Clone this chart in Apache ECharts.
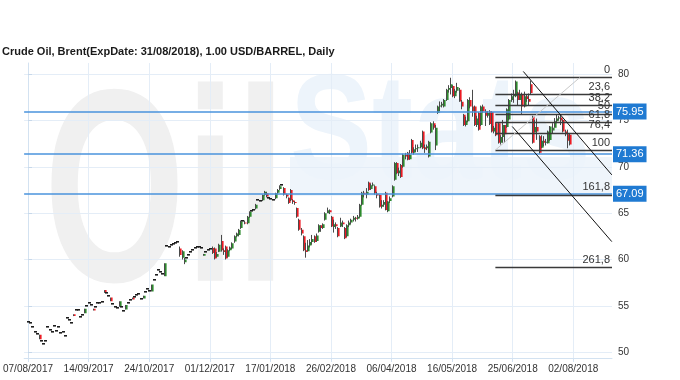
<!DOCTYPE html>
<html><head><meta charset="utf-8">
<script src="https://cdn.jsdelivr.net/npm/echarts@6/dist/echarts.min.js"></script>
<style>html,body{margin:0;padding:0;background:#fff}#c{width:680px;height:380px}</style>
</head><body><div id="c"></div>
<script>
const titleText = 'Crude Oil, Brent(ExpDate: 31/08/2018), 1.00 USD/BARREL, Daily';
const tickLabels = ['07/08/2017','14/09/2017','24/10/2017','01/12/2017','17/01/2018','26/02/2018','06/04/2018','16/05/2018','25/06/2018','02/08/2018'];
const tickStep = 28;
const yTicks = [50,55,60,65,70,75,80];

const opens = [
53.3,53.2,52.7,52.2,52.0,51.9,51.25,50.9,51.25,52.7,
52.4,52.2,52.8,52.3,52.7,52.05,52.15,51.8,53.65,53.5,
53.2,54.1,54.55,54.6,53.85,54.0,54.2,55.0,55.3,55.1,
54.7,54.9,55.3,55.35,55.4,56.7,56.35,56.1,55.9,55.2,
54.9,54.8,54.9,54.9,54.4,54.6,55.3,55.6,55.9,56.0,
56.2,56.3,55.7,55.8,56.5,56.8,56.6,56.55,57.8,58.35,
58.9,58.6,58.4,58.2,61.5,61.4,61.6,61.7,61.8,61.9,
61.2,60.2,59.7,60.2,60.5,60.8,61.0,61.2,61.4,61.3,
61.2,60.4,60.8,61.0,61.1,61.25,61.2,60.3,60.85,62.0,
61.0,61.4,60.3,61.0,61.2,61.95,62.5,62.65,63.4,64.1,
64.0,63.9,64.6,65.2,65.3,65.5,66.4,66.3,66.4,66.95,
67.15,66.6,66.5,66.4,66.6,67.2,67.6,68.05,67.7,67.0,
66.65,67.5,66.4,66.2,65.55,64.3,63.2,62.5,61.0,60.9,
61.5,61.9,62.5,62.0,63.0,63.7,63.4,64.3,65.0,65.3,
64.6,63.5,63.8,63.4,63.55,64.0,63.4,62.5,63.7,64.0,
64.3,64.5,64.4,64.6,65.9,67.2,67.0,68.3,67.6,68.0,
67.9,67.1,66.95,65.7,65.9,67.2,65.2,66.3,66.8,68.6,
70.4,69.3,70.2,70.0,71.3,71.5,70.8,72.9,71.5,71.9,
72.0,72.1,73.8,72.1,72.0,71.1,73.7,74.7,72.3,75.8,
76.5,76.6,76.5,77.2,78.3,78.5,78.7,77.6,78.2,78.3,
77.0,75.6,74.5,74.9,77.2,76.5,76.5,74.5,75.8,74.5,
76.5,76.0,75.5,76.0,75.9,73.8,74.7,74.7,72.6,73.2,
74.5,74.3,75.1,77.2,77.6,77.6,78.0,77.2,77.8,76.5,
77.6,77.3,78.9,75.4,73.7,74.3,73.3,72.05,72.8,72.6,
72.55,72.9,73.9,74.2,74.9,75.2,75.3,75.05,73.8,73.5,
73.45];
const closes = [
53.3,53.2,52.7,52.2,52.0,51.4,51.25,50.9,51.25,52.7,
52.4,52.2,52.8,52.3,52.7,52.05,52.15,51.8,53.65,53.5,
53.2,53.9,54.55,54.6,53.85,54.0,54.7,55.0,55.3,55.1,
54.5,54.9,55.3,55.35,55.4,56.4,56.35,56.1,55.5,55.2,
54.9,54.8,55.5,54.9,54.4,55.1,55.3,55.6,55.7,56.0,
56.2,56.3,55.7,56.1,56.5,56.8,56.6,57.3,57.8,58.35,
58.9,58.6,58.4,59.6,61.5,61.4,61.6,61.7,61.8,61.9,
60.5,60.9,60.0,60.2,60.5,60.8,61.0,61.2,61.4,61.3,
61.2,60.6,60.8,61.0,61.1,60.7,60.1,60.6,61.6,61.0,
60.8,60.1,61.0,61.3,61.75,62.5,62.8,63.2,64.1,64.1,
63.9,64.6,65.15,65.2,65.3,65.9,66.4,66.3,66.95,67.3,
66.8,66.6,66.5,66.4,67.15,67.5,67.9,68.05,67.0,66.8,
66.1,66.4,66.2,66.1,64.6,63.2,62.8,61.0,60.8,61.5,
61.9,62.2,61.9,62.6,63.7,63.4,63.8,65.0,65.3,65.1,
63.55,63.8,63.6,62.5,64.0,63.8,62.3,63.7,64.0,64.3,
64.5,64.4,64.6,65.9,67.2,67.0,67.3,67.5,68.0,68.1,
67.15,66.9,65.7,65.9,66.2,65.35,66.25,66.6,67.9,70.4,
69.3,69.6,68.9,71.3,71.1,70.75,71.3,71.5,71.9,72.0,
72.1,72.6,72.0,71.9,72.2,72.7,74.7,74.2,74.2,76.5,
76.6,76.8,77.2,78.3,78.5,78.9,77.6,78.2,78.6,77.05,
76.5,74.5,75.0,77.2,76.5,76.0,74.5,75.2,74.0,76.5,
76.0,75.5,75.8,74.6,73.8,74.2,73.4,72.6,73.2,74.5,
73.5,76.2,77.2,77.6,77.8,79.2,77.2,77.8,76.5,77.6,
77.3,77.0,77.95,72.6,74.3,73.8,71.5,72.8,72.6,72.7,
73.8,74.35,74.2,74.9,75.2,75.3,75.0,73.8,73.5,72.8,
72.4];
const lows = [
53.25,53.15,52.65,52.15,51.95,51.4,51.2,50.85,51.2,52.65,
52.35,52.15,52.75,52.25,52.65,52.0,52.1,51.75,53.6,53.45,
53.15,53.9,54.5,54.55,53.8,53.95,54.2,54.95,55.25,55.05,
54.5,54.85,55.25,55.3,55.35,56.4,56.3,56.05,55.5,55.15,
54.85,54.75,54.9,54.85,54.35,54.6,55.25,55.55,55.7,55.95,
56.15,56.25,55.65,55.8,56.45,56.75,56.55,56.55,57.75,58.3,
58.85,58.55,58.35,58.2,61.45,61.35,61.55,61.65,61.75,61.85,
60.3,60.0,59.5,60.15,60.45,60.75,60.95,61.15,61.35,61.25,
61.15,60.4,60.75,60.95,61.05,60.6,60.0,60.2,60.8,60.85,
60.5,60.0,60.2,60.9,61.1,61.8,62.4,62.5,63.3,64.05,
63.8,63.8,64.5,65.15,65.25,65.4,66.35,66.25,66.3,66.9,
66.7,66.55,66.4,66.3,66.5,67.1,67.5,67.9,66.9,66.6,
66.0,66.3,66.0,65.9,64.5,63.1,62.6,60.9,60.2,60.85,
61.3,61.6,61.8,61.9,62.9,63.0,63.3,64.2,65.0,64.9,
63.5,62.9,63.3,62.4,63.5,63.5,62.2,62.4,63.5,63.8,
64.1,64.1,64.3,64.5,65.8,66.7,66.6,67.4,67.5,67.9,
67.0,66.6,65.6,65.5,65.7,65.3,65.1,66.1,66.7,68.5,
69.2,69.0,68.8,69.9,70.8,70.7,70.75,71.4,71.3,71.6,
71.6,72.0,71.9,71.5,71.8,71.0,73.6,74.0,71.8,75.7,
76.0,76.4,76.4,77.1,78.0,77.8,77.5,77.4,78.0,77.0,
76.2,74.4,74.35,74.8,76.3,75.4,74.4,74.3,73.9,74.4,
75.8,74.4,75.3,74.5,73.7,73.6,73.3,72.5,72.4,72.6,
72.6,74.2,75.0,77.0,76.9,77.5,76.6,77.2,75.7,76.4,
77.0,76.6,77.8,72.5,73.7,72.9,71.4,72.0,72.2,72.3,
72.5,72.8,73.6,74.2,74.7,75.0,74.5,73.7,73.3,72.0,
72.3];
const highs = [
53.35,53.25,52.75,52.25,52.05,51.9,51.3,50.95,51.3,52.75,
52.45,52.25,52.85,52.35,52.75,52.1,52.2,51.85,53.7,53.55,
53.25,54.1,54.6,54.65,53.9,54.05,54.7,55.05,55.35,55.15,
54.7,54.95,55.35,55.4,55.45,56.7,56.4,56.15,55.9,55.25,
54.95,54.85,55.5,54.95,54.45,55.1,55.35,55.65,55.9,56.05,
56.25,56.35,55.75,56.1,56.55,56.85,56.65,57.3,57.85,58.4,
58.95,58.65,58.45,59.6,61.55,61.45,61.65,61.75,61.85,61.95,
61.4,61.0,60.2,60.25,60.55,60.85,61.05,61.25,61.45,61.35,
61.25,60.6,60.85,61.05,61.15,61.4,61.3,60.8,61.7,62.65,
61.2,61.5,61.1,61.4,61.85,62.6,62.9,63.3,64.2,64.15,
64.2,64.7,65.2,65.25,65.35,66.0,66.45,66.35,67.0,67.4,
67.3,66.65,66.6,66.5,67.2,67.6,68.0,68.15,67.8,67.1,
66.7,67.6,66.5,66.3,65.6,64.4,63.4,62.6,61.8,62.1,
62.2,62.65,62.6,62.8,63.8,63.7,63.9,65.1,65.6,65.4,
64.7,64.3,64.0,63.5,64.5,64.2,63.5,63.8,64.2,64.4,
64.7,64.6,64.8,66.0,67.3,67.4,67.7,68.4,68.2,68.3,
68.0,67.3,67.0,66.4,66.4,67.3,66.3,66.8,68.0,70.5,
70.5,69.9,70.3,71.4,71.5,71.6,71.8,73.0,72.1,72.4,
72.4,72.8,73.9,72.4,72.4,72.8,74.8,74.9,74.5,76.6,
77.05,77.0,77.3,78.4,78.8,79.6,78.8,78.4,79.05,78.5,
77.2,75.7,75.4,77.3,77.5,78.3,76.6,75.5,75.9,76.6,
76.7,76.2,76.0,76.1,76.0,74.4,74.8,74.8,73.4,75.05,
74.5,76.3,77.3,77.9,78.3,79.3,78.1,78.3,78.0,78.1,
77.8,77.9,79.3,75.5,75.05,75.2,73.4,73.4,73.3,73.0,
73.9,74.4,74.7,75.25,75.6,75.5,75.6,75.1,74.0,74.0,
73.6];

const levels = [75.95, 71.36, 67.09];
const fibHigh = 79.62, fibLow = 71.8, fibStartIdx = 216;
const fibPct = [0, 23.6, 38.2, 50, 61.8, 76.4, 100, 161.8, 261.8];
const fibNames = ['0', '23,6', '38,2', '50', '61,8', '76,4', '100', '161,8', '261,8'];
const fibAnchor = [[216, 71.8], [255, 79.62]];
const channelUpper = [[228.9, 80.28], [269.8, 69.13]];
const channelLower = [[223.8, 74.34], [269.8, 61.93]];

const X_MIN = -1.8, X_MAX = 269.9, Y_MIN = 49.38, Y_MAX = 81.19;
const xTicks = tickLabels.map((_, k) => k * tickStep);

const candleData = closes.map((c, k) => [k, opens[k], c, lows[k], highs[k]]);

function renderCandle(params, api) {
  const i = api.value(0), o = api.value(1), c = api.value(2), lo = api.value(3), hi = api.value(4);
  const pO = api.coord([i, o]), pC = api.coord([i, c]), pL = api.coord([i, lo]), pH = api.coord([i, hi]);
  const x = Math.round(pO[0]);
  if (Math.abs(c - o) < 0.01) {
    return {type: 'rect', shape: {x: x - 1, y: Math.round(pO[1]) - 1, width: 3, height: 1.6}, style: {fill: '#1e1e1e'}};
  }
  const up = c > o;
  const top = Math.min(pO[1], pC[1]), bot = Math.max(pO[1], pC[1]);
  return {type: 'group', children: [
    {type: 'line', shape: {x1: x + 0.5, y1: pH[1], x2: x + 0.5, y2: pL[1]}, style: {stroke: '#4a4a4a', lineWidth: 1}},
    {type: 'rect', shape: {x: x + 1, y: top, width: 1.6, height: Math.max(1, bot - top)}, style: {fill: up ? '#2e8b2e' : '#ec1c24'}}
  ]};
}

const mlData = [];
levels.forEach(v => {
  mlData.push({
    yAxis: v,
    lineStyle: {color: '#4a93dc', width: 1.6, type: 'solid'},
    label: {show: true, position: 'end', formatter: v.toFixed(2), backgroundColor: '#1f7ad2', color: '#fff',
            padding: [3, 3, 2, 3], fontSize: 11, fontFamily: 'Liberation Sans', distance: 1}
  });
});
fibPct.forEach((p, k) => {
  const v = fibHigh - p / 100 * (fibHigh - fibLow);
  mlData.push([
    {coord: [fibStartIdx, v], lineStyle: {color: '#3a3a3a', width: 1.4, type: 'solid'},
     label: {show: true, position: 'insideEndTop', formatter: fibNames[k], color: '#333', fontSize: 11,
             fontFamily: 'Liberation Sans', distance: 2}},
    {coord: [X_MAX, v]}
  ]);
});
mlData.push([{coord: fibAnchor[0], lineStyle: {color: '#c8c8c8', width: 1, type: 'solid'}, label: {show: false}}, {coord: fibAnchor[1]}]);
mlData.push([{coord: channelUpper[0], lineStyle: {color: '#111', width: 1, type: 'solid'}, label: {show: false}}, {coord: channelUpper[1]}]);
mlData.push([{coord: channelLower[0], lineStyle: {color: '#111', width: 1, type: 'solid'}, label: {show: false}}, {coord: channelLower[1]}]);

const chart = echarts.init(document.getElementById('c'), null, {renderer: 'canvas'});
chart.setOption({
  animation: false,
  backgroundColor: '#fff',
  title: {text: titleText, left: 0, top: 44, padding: [2, 2, 2, 2],
          textStyle: {fontSize: 11, fontWeight: 'bold', fontFamily: 'Liberation Sans', color: '#1a1a1a'}},
  graphic: [
    {type: 'rect', z: -10, silent: true, shape: {x: 290, y: 157, width: 322, height: 39}, style: {fill: '#eff5fb'}},
    {type: 'text', z: -10, silent: true, x: 44, y: 205, scaleX: 0.66,
     style: {text: 'Oil', font: 'bold 275px "Liberation Sans"', fill: '#f0f0f0', textVerticalAlign: 'middle'}},
    {type: 'text', z: -10, silent: true, x: 290, y: 138, scaleX: 0.82,
     style: {text: 'Stats', font: 'bold 150px "Liberation Sans"', fill: '#edf4fb', textVerticalAlign: 'middle'}}
  ],
  grid: {left: 20, right: 68, top: 63, bottom: 22, containLabel: false},
  xAxis: {
    type: 'value', min: X_MIN, max: X_MAX,
    axisLine: {show: true, lineStyle: {color: '#d3e2f1'}},
    axisTick: {show: true, customValues: xTicks, length: 4, lineStyle: {color: '#d3e2f1'}},
    axisLabel: {customValues: xTicks, formatter: v => tickLabels[Math.round(v / tickStep)],
                color: '#333', fontSize: 10, fontFamily: 'Liberation Sans', margin: 6},
    splitLine: {show: true, lineStyle: {color: '#e4edf7'}}
  },
  yAxis: {
    type: 'value', position: 'right', min: Y_MIN, max: Y_MAX, scale: true,
    axisLine: {show: true, lineStyle: {color: '#d3e2f1'}},
    axisTick: {show: true, customValues: yTicks, length: 4, lineStyle: {color: '#c7d8ea'}},
    axisLabel: {customValues: yTicks, color: '#333', fontSize: 10, fontFamily: 'Liberation Sans', margin: 6},
    splitLine: {show: true, lineStyle: {color: '#e4edf7'}}
  },
  series: [{
    type: 'custom',
    renderItem: renderCandle,
    data: candleData,
    encode: {x: 0, y: [1, 2, 3, 4]},
    clip: true,
    markLine: {silent: true, symbol: ['none', 'none'], animation: false, data: mlData}
  }]
});
</script>
</body></html>
